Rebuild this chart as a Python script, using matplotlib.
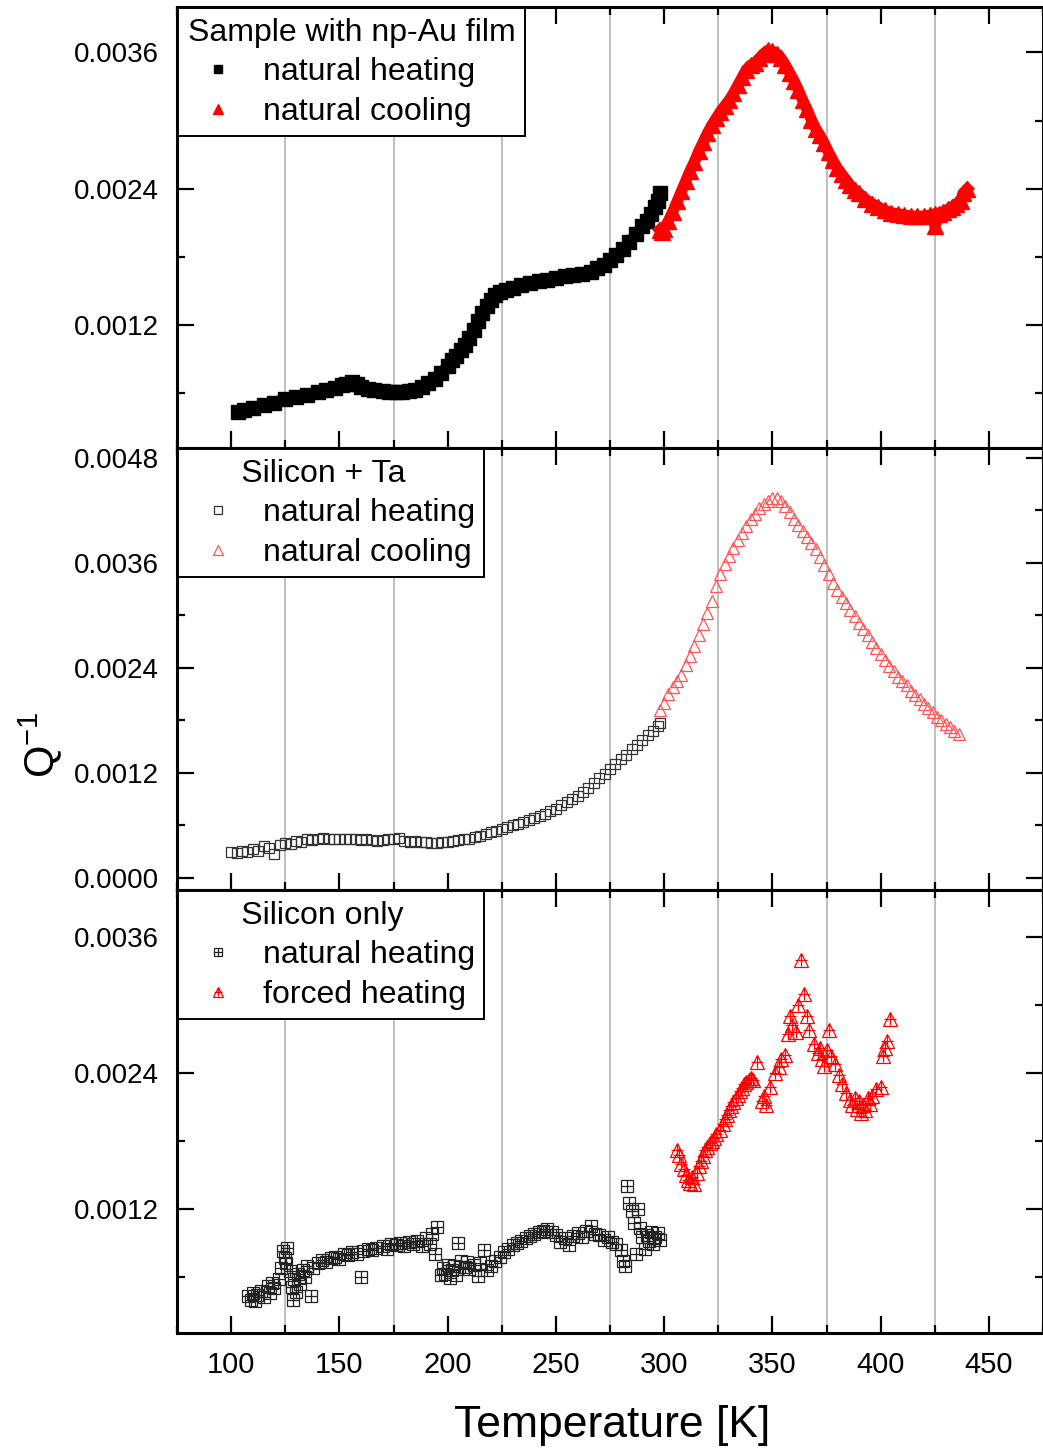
import numpy as np
import matplotlib
matplotlib.use("Agg")
import matplotlib.pyplot as plt
from matplotlib.lines import Line2D
from matplotlib.legend_handler import HandlerTuple
from matplotlib.ticker import MultipleLocator, FormatStrFormatter

plt.rcParams['font.family'] = ['Liberation Sans', 'DejaVu Sans']
plt.rcParams['mathtext.fontset'] = 'custom'
plt.rcParams['mathtext.rm'] = 'Liberation Sans'

# ---------------- data ----------------
# Panel 1: Sample with np-Au film
au_heat_T = [103, 106, 110, 115, 120, 125, 130, 135, 140, 144, 148, 151, 153, 156, 158, 160, 163,
             166, 170, 173, 176, 179, 182, 185, 188, 191, 194, 197, 200, 202, 204, 206, 208, 210,
             212, 214, 216, 218, 220, 222, 224, 227, 230, 234, 238, 242, 246, 250, 254, 258, 262,
             266, 269, 272, 275, 278, 281, 284, 287, 290, 292, 294, 296, 297, 298]
au_heat_Q = [0.000435, 0.00045, 0.00047, 0.00050, 0.00052, 0.00055, 0.00057, 0.00059, 0.00061,
             0.00063, 0.00065, 0.00067, 0.00068, 0.00070, 0.00068, 0.00066, 0.00064, 0.00063,
             0.00062, 0.00061, 0.00061, 0.00061, 0.00062, 0.00063, 0.00066, 0.00069, 0.00073,
             0.00078, 0.00084, 0.00089, 0.00093, 0.00098, 0.00103, 0.00109, 0.00116, 0.00124,
             0.00131, 0.00137, 0.00142, 0.00147, 0.00149, 0.00151, 0.00153, 0.00155, 0.00157,
             0.00159, 0.00160, 0.00162, 0.00163, 0.00164, 0.00165, 0.00167, 0.00170, 0.00173,
             0.00177, 0.00182, 0.00187, 0.00193, 0.00200, 0.00207, 0.00212, 0.00218, 0.00224,
             0.00229, 0.00236]
au_cool_T = [298, 299, 300, 302, 304, 306, 308, 310, 312, 314, 316, 318, 320, 322, 324, 326, 328,
             330, 332, 334, 336, 338, 340, 342, 344, 346, 348, 350, 352, 354, 356, 358, 360, 362,
             364, 366, 368, 370, 372, 374, 376, 378, 380, 382, 384, 386, 388, 390, 393, 396, 399,
             402, 405, 408, 411, 414, 417, 420, 423, 425, 425, 427, 429, 431, 433, 435, 437, 438, 440]
au_cool_Q = [0.00204, 0.00202, 0.00205, 0.00212, 0.00220, 0.00229, 0.00238, 0.00247, 0.00256,
             0.00264, 0.00273, 0.00281, 0.00289, 0.00296, 0.00302, 0.00308, 0.00313, 0.00318,
             0.00324, 0.00331, 0.00338, 0.00345, 0.00349, 0.00351, 0.00355, 0.00359, 0.00362,
             0.00361, 0.00359, 0.00355, 0.00349, 0.00342, 0.00335, 0.00327, 0.00318, 0.00310,
             0.00301, 0.00293, 0.00287, 0.00280, 0.00272, 0.00265, 0.00258, 0.00253, 0.00248,
             0.00243, 0.00239, 0.00236, 0.00231, 0.00227, 0.00224, 0.00221, 0.00219, 0.00218,
             0.00217, 0.00216, 0.00216, 0.00216, 0.00217, 0.00218, 0.00207, 0.00218, 0.00220,
             0.00222, 0.00224, 0.00227, 0.00229, 0.00236, 0.00240]

# Panel 2: Silicon + Ta
ta_heat_T = [100, 102.5, 105, 107.5, 110, 112.5, 115, 117.5, 120, 122.5, 125, 127.5, 130, 132.5,
             135, 137.5, 140, 142.5, 145, 147.5, 150, 152.5, 155, 157.5, 160, 162.5, 165, 167.5,
             170, 172.5, 175, 177.5, 180, 182.5, 185, 187.5, 190, 192.5, 195, 197.5, 200, 202.5,
             205, 207.5, 210, 212.5, 215, 217.5, 220, 222.5, 225, 227.5, 230, 232.5, 235, 237.5,
             240, 242.5, 245, 247.5, 250, 252.5, 255, 257.5, 260, 262.5, 265, 267.5, 270, 272.5,
             275, 277.5, 280, 282.5, 285, 287.5, 290, 292.5, 295, 297, 298]
ta_heat_Q = [0.00030, 0.00029, 0.00031, 0.00030, 0.00033, 0.00031, 0.00036, 0.00034, 0.00027,
             0.00038, 0.00040, 0.00039, 0.00042, 0.00041, 0.00044, 0.00043, 0.00045, 0.00046,
             0.00045, 0.00044, 0.00045, 0.00044, 0.00044, 0.00045, 0.00043, 0.00044, 0.00043,
             0.00042, 0.00043, 0.00045, 0.00044, 0.00046, 0.00042, 0.00041, 0.00042, 0.00041,
             0.00041, 0.00040, 0.00040, 0.00041, 0.00041, 0.00042, 0.00043, 0.00044, 0.00045,
             0.00047, 0.00048, 0.00050, 0.00052, 0.00054, 0.00056, 0.00058, 0.00060, 0.00062,
             0.00064, 0.00066, 0.00068, 0.00071, 0.00073, 0.00076, 0.00079, 0.00083, 0.00087,
             0.00090, 0.00094, 0.00098, 0.00103, 0.00108, 0.00114, 0.00119, 0.00125, 0.00130,
             0.00136, 0.00141, 0.00147, 0.00152, 0.00158, 0.00163, 0.00168, 0.00174, 0.00177]
ta_cool_T = [298, 300, 302, 304, 306, 308, 310, 312, 314, 316, 318, 320, 322, 324, 326, 328, 330,
             332, 334, 336, 338, 340, 342, 344, 346, 348, 350, 352, 354, 356, 358, 360, 362, 364,
             366, 368, 370, 372, 374, 376, 378, 380, 382, 384, 386, 388, 390, 392, 394, 396, 398,
             400, 402, 404, 406, 408, 410, 412, 414, 416, 418, 420, 422, 424, 426, 428, 430, 432,
             434, 436]
ta_cool_Q = [0.00192, 0.00200, 0.00210, 0.00218, 0.00225, 0.00232, 0.00243, 0.00254, 0.00265,
             0.00278, 0.00290, 0.00303, 0.00316, 0.00333, 0.00347, 0.00358, 0.00368, 0.00377,
             0.00386, 0.00394, 0.00402, 0.00410, 0.00416, 0.00422, 0.00427, 0.00431, 0.00434,
             0.00434, 0.00431, 0.00425, 0.00418, 0.00410, 0.00403, 0.00396, 0.00389, 0.00382,
             0.00376, 0.00367, 0.00357, 0.00347, 0.00337, 0.00329, 0.00321, 0.00314, 0.00306,
             0.00299, 0.00291, 0.00284, 0.00277, 0.00270, 0.00263, 0.00256, 0.00249, 0.00242,
             0.00236, 0.00230, 0.00225, 0.00220, 0.00214, 0.00209, 0.00204, 0.00199, 0.00194,
             0.00189, 0.00184, 0.00180, 0.00176, 0.00172, 0.00168, 0.00164]

# Panel 3: Silicon only
si_heat_T = [108, 109, 110, 111, 112, 114, 115, 117, 118, 119, 120, 122, 123, 124, 125, 125.5, 126,
             127, 128, 128.5, 129, 130, 131, 132, 133, 134, 135, 137, 138, 140, 142, 144, 146, 148,
             150, 152, 154, 156, 158, 160, 161, 163, 165, 167, 170, 172, 174, 176, 178, 180, 182,
             184, 186, 188, 190, 192, 193, 194, 195, 197, 198, 199, 200, 201, 202, 203, 204, 205,
             206, 208, 209, 210, 212, 214, 215, 217, 218, 220, 222, 224, 226, 228, 230, 232, 234,
             236, 238, 240, 242, 244, 246, 248, 250, 252, 254, 256, 258, 260, 262, 264, 266, 268,
             270, 272, 274, 276, 278, 280, 281, 282, 283, 284, 285, 286, 287, 288, 289, 290, 291,
             292, 293, 294, 295, 296, 297, 298]
si_heat_Q = [0.00043, 0.00040, 0.00046, 0.00039, 0.00044, 0.00048, 0.00042, 0.00052, 0.00046,
             0.00055, 0.00050, 0.00058, 0.00068, 0.00083, 0.00077, 0.00072, 0.00086, 0.00065,
             0.00051, 0.00040, 0.00058, 0.00047, 0.00063, 0.00054, 0.00066, 0.00060, 0.00070,
             0.00043, 0.00068, 0.00072, 0.00075, 0.00073, 0.00077, 0.00078, 0.00076, 0.00080,
             0.00079, 0.00082, 0.00080, 0.00060, 0.00083, 0.00085, 0.00084, 0.00086, 0.00087,
             0.00085, 0.00089, 0.00088, 0.00090, 0.00087, 0.00091, 0.00089, 0.00092, 0.00087,
             0.00094, 0.00089, 0.00098, 0.00080, 0.00104, 0.00062, 0.00068, 0.00063, 0.00071,
             0.00059, 0.00066, 0.00070, 0.00062, 0.00090, 0.00074, 0.00069, 0.00073, 0.00067,
             0.00071, 0.00061, 0.00072, 0.00084, 0.00066, 0.00070, 0.00074, 0.00078, 0.00082,
             0.00085, 0.00088, 0.00090, 0.00092, 0.00094, 0.00096, 0.00098, 0.00100, 0.00101,
             0.00102, 0.00100, 0.00097, 0.00091, 0.00094, 0.00088, 0.00096, 0.00099, 0.00095,
             0.00101, 0.00105, 0.00098, 0.00097, 0.00093, 0.00095, 0.00091, 0.00089, 0.00084,
             0.00074, 0.00070, 0.00140, 0.00125, 0.00118, 0.00108, 0.00080, 0.00120, 0.00103,
             0.00095, 0.00085, 0.00097, 0.00092, 0.00100, 0.00089, 0.00095, 0.00099, 0.00093]
si_forced_T = [306, 307, 308, 309, 310, 311, 312, 313, 314, 315, 316, 317, 318, 319, 320, 321, 322,
               323, 324, 326, 327, 328, 329, 330, 331, 332, 333, 334, 335, 336, 337, 338, 339, 340,
               341, 343, 345, 346, 347, 349, 351, 353, 354, 356, 357, 358, 359, 361, 362, 363,
               364.5, 366, 367, 369, 371, 372, 373, 374, 375, 376, 377, 379, 381, 382, 384, 386,
               387, 388, 389, 390, 391, 392, 393, 394, 395, 396, 398, 400, 401, 402, 403, 404.5]
si_forced_Q = [0.00172, 0.00168, 0.00160, 0.00155, 0.00150, 0.00146, 0.00143, 0.00148, 0.00142,
               0.00152, 0.00158, 0.00162, 0.00167, 0.00172, 0.00175, 0.00178, 0.00180, 0.00183,
               0.00186, 0.00190, 0.00195, 0.00199, 0.00203, 0.00207, 0.00211, 0.00214, 0.00218,
               0.00221, 0.00224, 0.00227, 0.00230, 0.00232, 0.00234, 0.00236, 0.00234, 0.00250,
               0.00215, 0.00220, 0.00212, 0.00228, 0.00240, 0.00245, 0.00252, 0.00256, 0.00274,
               0.00290, 0.00282, 0.00276, 0.00300, 0.00340, 0.00310, 0.00290, 0.00278, 0.00266,
               0.00258, 0.00262, 0.00252, 0.00246, 0.00260, 0.00278, 0.00255, 0.00248, 0.00238,
               0.00230, 0.00222, 0.00216, 0.00212, 0.00218, 0.00208, 0.00215, 0.00205, 0.00212,
               0.00207, 0.00218, 0.00213, 0.00220, 0.00226, 0.00228, 0.00255, 0.00262, 0.00268,
               0.00288]

x_ticks = [100, 150, 200, 250, 300, 350, 400, 450]

# ---------------- figure ----------------
W, H = 1043, 1454
fig = plt.figure(figsize=(W / 100, H / 100), dpi=100)
left = 177 / W
right = 1.0
panels_px = [(7, 448), (448, 890), (890, 1333)]
axes = []
for top, bot in panels_px:
    ax = fig.add_axes([left, 1 - bot / H, right - left, (bot - top) / H])
    axes.append(ax)

ylims = [(0.00012, 0.00400), (-0.000137, 0.00491), (0.000106, 0.004015)]
RED = '#ff0000'
PINK = '#ff5555'

for i, ax in enumerate(axes):
    ax.set_xlim(75, 475)
    ax.set_ylim(*ylims[i])
    ax.xaxis.set_major_locator(matplotlib.ticker.FixedLocator(x_ticks))
    ax.xaxis.set_minor_locator(MultipleLocator(25))
    ax.yaxis.set_major_locator(MultipleLocator(0.0012))
    ax.yaxis.set_minor_locator(MultipleLocator(0.0006))
    ax.yaxis.set_major_formatter(FormatStrFormatter('%.4f'))
    ax.tick_params(which='both', direction='in', top=True, right=True, width=1.6)
    ax.tick_params(which='major', length=12, labelsize=20, pad=13)
    ax.tick_params(which='minor', length=6)
    ax.tick_params(axis='x', labelsize=21, pad=13)
    for sp in ax.spines.values():
        sp.set_linewidth(2.2)
    ax.set_axisbelow(True)
    ax.grid(which='minor', axis='x', color='#b4b4b4', linewidth=1.2)
    if i < 2:
        ax.tick_params(axis='x', labelbottom=False)

# Panel 1
ax = axes[0]
ax.plot(au_heat_T, au_heat_Q, color='black', lw=8, solid_capstyle='butt', zorder=3)
ax.plot(au_heat_T, au_heat_Q, ls='none', marker='s', ms=10, color='black', zorder=3)
ax.plot(au_cool_T, au_cool_Q, color=RED, lw=8, zorder=4)
ax.plot(au_cool_T, au_cool_Q, ls='none', marker='^', ms=11, color=RED, zorder=4)
h1 = Line2D([], [], ls='none', marker='s', ms=6, color='black')
h2 = Line2D([], [], ls='none', marker='^', ms=7, color=RED)

# Panel 2
ax = axes[1]
ax.plot(ta_heat_T, ta_heat_Q, ls='none', marker='s', ms=6.5, mfc='none', mec='#333333', mew=0.9, zorder=3)
ax.plot(ta_cool_T, ta_cool_Q, ls='none', marker='^', ms=8.5, mfc='none', mec=PINK, mew=0.9, zorder=3)
h3 = Line2D([], [], ls='none', marker='s', ms=6, mfc='none', mec='#333333', mew=0.9)
h4 = Line2D([], [], ls='none', marker='^', ms=7, mfc='none', mec=PINK, mew=0.9)

# Panel 3
ax = axes[2]
ax.plot(si_heat_T, si_heat_Q, ls='none', marker='s', ms=8, mfc='none', mec='#222222', mew=0.9, zorder=3)
ax.plot(si_heat_T, si_heat_Q, ls='none', marker='+', ms=8, mec='#222222', mew=0.9, zorder=3)
ax.plot(si_forced_T, si_forced_Q, ls='none', marker='^', ms=9.5, mfc='none', mec=RED, mew=0.9, zorder=3)
ax.plot(si_forced_T, si_forced_Q, ls='none', marker='+', ms=8, mec=RED, mew=0.9, zorder=3)
h5 = (Line2D([], [], ls='none', marker='s', ms=6, mfc='none', mec='#222222', mew=0.9),
      Line2D([], [], ls='none', marker='+', ms=6, mec='#222222', mew=0.9))
h6 = (Line2D([], [], ls='none', marker='^', ms=7, mfc='none', mec=RED, mew=0.9),
      Line2D([], [], ls='none', marker='+', ms=6, mec=RED, mew=0.9))

# titles use leading spaces so the title appears centred while entries stay left aligned
legend_specs = [
    (axes[0], [h1, h2], ['natural heating', 'natural cooling'], 'Sample with np-Au film'),
    (axes[1], [h3, h4], ['natural heating', 'natural cooling'], '      Silicon + Ta'),
    (axes[2], [h5, h6], ['natural heating', 'forced heating'], '      Silicon only'),
]
for ax, hs, labs, title in legend_specs:
    leg = ax.legend(hs, labs, title=title, loc='upper left', bbox_to_anchor=(0.0, 1.0),
                    borderaxespad=0.03, fontsize=23, title_fontsize=23, frameon=True,
                    fancybox=False, edgecolor='black', framealpha=1, handlelength=1.9,
                    handletextpad=0.45, labelspacing=0.3, borderpad=0.3, alignment='left',
                    handler_map={tuple: HandlerTuple(ndivide=1)})
    leg.get_frame().set_linewidth(1.4)
    leg.set_zorder(10)

fig.text(612 / W, 1 - 1425 / H, 'Temperature [K]', fontsize=32, ha='center', va='center')
fig.text(40 / W, 1 - 745 / H, r'Q$^{\mathregular{-1}}$', fontsize=30, rotation=90,
         ha='center', va='center')

fig.savefig('out.png', dpi=100)
